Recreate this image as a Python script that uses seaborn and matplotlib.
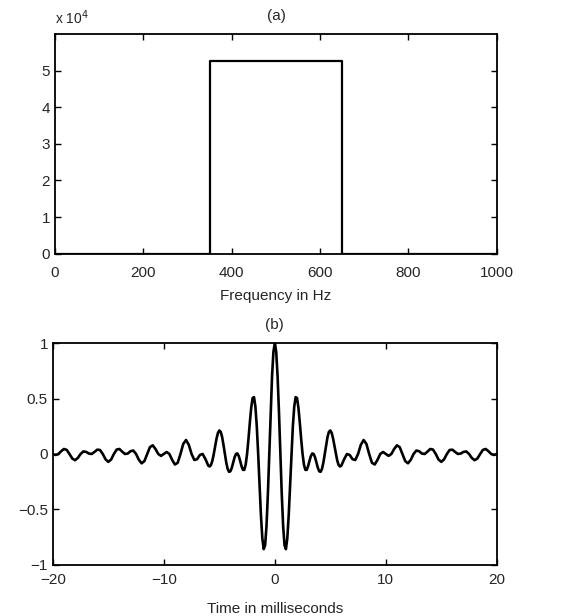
import matplotlib
matplotlib.use("Agg")
import matplotlib.pyplot as plt
import seaborn as sns

# (a) magnitude spectrum: a flat band between 350 and 650 Hz
freq_hz = [0, 350, 650, 1000]
magnitude = [0, 52700, 0, 0]
mag_ticks = [0, 10000, 20000, 30000, 40000, 50000]
mag_labels = ['0', '1', '2', '3', '4', '5']
freq_ticks = [0, 200, 400, 600, 800, 1000]

# (b) time signal: every 0.25 ms in the tails,
# every 0.125 ms around the main lobes
time_ms = [
    -20, -19.75, -19.5, -19.25, -19, -18.75, -18.5, -18.25,
    -18, -17.75, -17.5, -17.25, -17, -16.75, -16.5, -16.25,
    -16, -15.75, -15.5, -15.25, -15, -14.75, -14.5, -14.25,
    -14, -13.75, -13.5, -13.25, -13, -12.75, -12.5, -12.25,
    -12, -11.75, -11.5, -11.25, -11, -10.75, -10.5, -10.25,
    -10, -9.75, -9.5, -9.25, -9, -8.75, -8.5, -8.25,
    -8, -7.75, -7.5, -7.25, -7, -6.75, -6.5, -6.25,
    -6, -5.875, -5.75, -5.625, -5.5, -5.375, -5.25, -5.125,
    -5, -4.875, -4.75, -4.625, -4.5, -4.375, -4.25, -4.125,
    -4, -3.875, -3.75, -3.625, -3.5, -3.375, -3.25, -3.125,
    -3, -2.875, -2.75, -2.625, -2.5, -2.375, -2.25, -2.125,
    -2, -1.875, -1.75, -1.625, -1.5, -1.375, -1.25, -1.125,
    -1, -0.875, -0.75, -0.625, -0.5, -0.375, -0.25, -0.125,
    0, 0.125, 0.25, 0.375, 0.5, 0.625, 0.75, 0.875,
    1, 1.125, 1.25, 1.375, 1.5, 1.625, 1.75, 1.875,
    2, 2.125, 2.25, 2.375, 2.5, 2.625, 2.75, 2.875,
    3, 3.125, 3.25, 3.375, 3.5, 3.625, 3.75, 3.875,
    4, 4.125, 4.25, 4.375, 4.5, 4.625, 4.75, 4.875,
    5, 5.125, 5.25, 5.375, 5.5, 5.625, 5.75, 5.875,
    6, 6.25, 6.5, 6.75, 7, 7.25, 7.5, 7.75,
    8, 8.25, 8.5, 8.75, 9, 9.25, 9.5, 9.75,
    10, 10.25, 10.5, 10.75, 11, 11.25, 11.5, 11.75,
    12, 12.25, 12.5, 12.75, 13, 13.25, 13.5, 13.75,
    14, 14.25, 14.5, 14.75, 15, 15.25, 15.5, 15.75,
    16, 16.25, 16.5, 16.75, 17, 17.25, 17.5, 17.75,
    18, 18.25, 18.5, 18.75, 19, 19.25, 19.5, 19.75,
    20,
]
amplitude = [
    0.000, -0.009, 0.000, 0.025, 0.045, 0.037, 0.000, -0.041,
    -0.056, -0.036, 0.000, 0.023, 0.019, 0.004, 0.000, 0.018,
    0.039, 0.036, 0.000, -0.048, -0.071, -0.050, 0.000, 0.040,
    0.045, 0.021, 0.000, 0.004, 0.025, 0.031, 0.000, -0.052,
    -0.084, -0.064, 0.000, 0.062, 0.078, 0.045, 0.000, -0.017,
    0.000, 0.018, 0.000, -0.053, -0.095, -0.079, 0.000, 0.091,
    0.126, 0.083, 0.000, -0.054, -0.047, -0.009, 0.000, -0.046,
    -0.104, -0.113, -0.099, -0.060, 0.000, 0.071, 0.139, 0.190,
    0.212, 0.200, 0.154, 0.082, 0.000, -0.077, -0.134, -0.161,
    -0.156, -0.124, -0.077, -0.030, 0.000, 0.005, -0.018, -0.061,
    -0.109, -0.143, -0.143, -0.096, 0.000, 0.134, 0.284, 0.419,
    0.505, 0.513, 0.427, 0.250, 0.000, -0.284, -0.555, -0.760,
    -0.858, -0.823, -0.650, -0.361, 0.000, 0.375, 0.700, 0.922,
    1.000, 0.922, 0.700, 0.375, 0.000, -0.361, -0.650, -0.823,
    -0.858, -0.760, -0.555, -0.284, 0.000, 0.250, 0.427, 0.513,
    0.505, 0.419, 0.284, 0.134, 0.000, -0.096, -0.143, -0.143,
    -0.109, -0.061, -0.018, 0.005, 0.000, -0.030, -0.077, -0.124,
    -0.156, -0.161, -0.134, -0.077, 0.000, 0.082, 0.154, 0.200,
    0.212, 0.190, 0.139, 0.071, 0.000, -0.060, -0.099, -0.113,
    -0.104, -0.046, 0.000, -0.009, -0.047, -0.054, 0.000, 0.083,
    0.126, 0.091, 0.000, -0.079, -0.095, -0.053, 0.000, 0.018,
    0.000, -0.017, 0.000, 0.045, 0.078, 0.062, 0.000, -0.064,
    -0.084, -0.052, 0.000, 0.031, 0.025, 0.004, 0.000, 0.021,
    0.045, 0.040, 0.000, -0.050, -0.071, -0.048, 0.000, 0.036,
    0.039, 0.018, 0.000, 0.004, 0.019, 0.023, 0.000, -0.036,
    -0.056, -0.041, 0.000, 0.037, 0.045, 0.025, 0.000, -0.009,
    0.000,
]
time_ticks = [-20, -10, 0, 10, 20]
amp_ticks = [-1, -0.5, 0, 0.5, 1]
amp_labels = ['\u22121', '\u22120.5', '0', '0.5', '1']

sns.set_style('ticks')
plt.rcParams['font.family'] = ['Liberation Sans', 'DejaVu Sans']
plt.rcParams['xtick.direction'] = 'in'
plt.rcParams['ytick.direction'] = 'in'

fig = plt.figure(figsize=(5.62, 6.16), dpi=100)
ax1 = fig.add_axes([0.098, 0.588, 0.786, 0.357])
ax2 = fig.add_axes([0.094, 0.083, 0.790, 0.360])

# Grafico (a)
sns.lineplot(x=freq_hz, y=magnitude, ax=ax1, color='black', linewidth=1.6,
             drawstyle='steps-post', estimator=None)
ax1.set_xlim(0, 1000)
ax1.set_ylim(0, 60000)
ax1.set_xticks(freq_ticks)
ax1.set_yticks(mag_ticks)
ax1.set_yticklabels(mag_labels)
ax1.set_title('(a)', fontsize=11, pad=10)
ax1.tick_params(axis='x', pad=9)
ax1.set_xlabel('Frequency in Hz', fontsize=11, labelpad=6)
ax1.text(0.0, 1.075, 'x 10$^4$', transform=ax1.transAxes, fontsize=10, ha='left', va='center')

# Grafico (b)
sns.lineplot(x=time_ms, y=amplitude, ax=ax2, color='black', linewidth=1.9, estimator=None)
ax2.set_xlim(-20, 20)
ax2.set_ylim(-1, 1)
ax2.set_xticks(time_ticks)
ax2.set_yticks(amp_ticks)
ax2.set_yticklabels(amp_labels)
ax2.set_title('(b)', fontsize=11, pad=10)
ax2.tick_params(axis='x', pad=6)
ax2.set_xlabel('Time in milliseconds', fontsize=11, labelpad=11)

for ax in (ax1, ax2):
    ax.tick_params(labelsize=11, top=True, right=True, length=4, width=1, color='black')
    for sp in ax.spines.values():
        sp.set_visible(True)
        sp.set_linewidth(1.3)
        sp.set_color('black')
    ax.set_ylabel('')

plt.savefig('out.png', dpi=100)
